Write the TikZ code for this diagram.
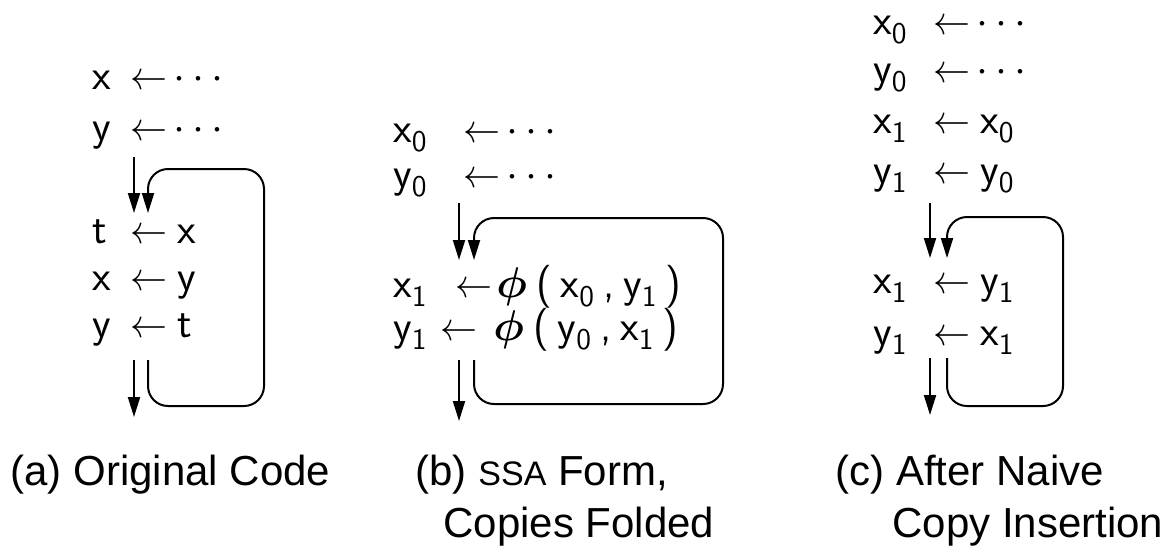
\documentclass[tikz,border=0pt]{standalone}
\usepackage{amsmath}
\usepackage{fontspec}
\setmainfont{Liberation Sans}
\usetikzlibrary{arrows.meta}

\newcommand{\sbs}[1]{\raisebox{-4.5pt}{\fontsize{15}{15}\selectfont #1}}
\newcommand{\asgarrow}{\smash{\scalebox{1.85}[2.0]{\normalsize$\leftarrow$}}}
\newcommand{\dotsrhs}{\smash{\scalebox{2.15}{\normalsize$\cdots$}}}
\newcommand{\phifn}{\scalebox{2.15}{\normalsize$\boldsymbol{\phi}$}}
\newcommand{\gap}{\hspace{4.5pt}}

\tikzset{
    code/.style={anchor=base west, inner sep=0pt, font=\fontsize{21.5}{24}\sffamily},
    caption/.style={anchor=base west, inner sep=0pt, font=\fontsize{21}{26}\selectfont},
    flow/.style={line width=1pt, -{Triangle[length=10pt,width=6pt]}},
    loop/.style={flow, rounded corners=10pt}
}

\begin{document}
\begin{tikzpicture}[x=0.5pt, y=-0.5pt]
    \useasboundingbox (0,0) rectangle (1170,554);

    % (a) original code
    \node[code] (ax0) at (92,89) {x};
    \node[code] (ax0r) at (130,89) {\asgarrow\hspace{3pt}\dotsrhs};
    \node[code] (ay0) at (92,140) {y};
    \node[code] (ay0r) at (130,140) {\asgarrow\hspace{3pt}\dotsrhs};
    \node[code] (at) at (92,243) {t};
    \node[code] (atr) at (130,243) {\asgarrow\hspace{5pt}x};
    \node[code] (ax) at (92,290) {x};
    \node[code] (axr) at (130,290) {\asgarrow\hspace{5pt}y};
    \node[code] (ay) at (92,337) {y};
    \node[code] (ayr) at (130,337) {\asgarrow\hspace{5pt}t};

    \coordinate (aIn) at (134,157);
    \coordinate (aHead) at (134,213);
    \coordinate (aBack) at (148,360);
    \coordinate (aBackHead) at (148,213);
    \coordinate (aOut) at (134,360);
    \coordinate (aExit) at (134,417);
    \draw[flow] (aIn) -- (aHead);
    \draw[loop] (aBack) |- (264,406) |- (148,169) -- (aBackHead);
    \draw[flow] (aOut) -- (aExit);

    \node[caption] (capa) at (10,485) {(a) Original Code};

    % (b) SSA form
    \node[code] (bx0) at (393,142) {x\sbs{0}};
    \node[code] (bx0r) at (463,142) {\asgarrow\hspace{3pt}\dotsrhs};
    \node[code] (by0) at (393,187) {y\sbs{0}};
    \node[code] (by0r) at (463,187) {\asgarrow\hspace{3pt}\dotsrhs};
    \node[code] (bx1) at (393,297) {x\sbs{1}};
    \node[code] (bx1r) at (455,297) {\asgarrow\hspace{2pt}\phifn\gap(\gap x\sbs{0}\gap,\gap y\sbs{1}\gap)};
    \node[code] (by1) at (393,340) {y\sbs{1}};
    \node[code] (by1r) at (440,340) {\asgarrow\hspace{8pt}\phifn\gap(\gap y\sbs{0}\gap,\gap x\sbs{1}\gap)};

    \coordinate (bIn) at (459,203);
    \coordinate (bHead) at (459,260);
    \coordinate (bBack) at (474,360);
    \coordinate (bBackHead) at (474,260);
    \coordinate (bOut) at (459,360);
    \coordinate (bExit) at (459,421);
    \draw[flow] (bIn) -- (bHead);
    \draw[loop] (bBack) |- (723,404) |- (474,218) -- (bBackHead);
    \draw[flow] (bOut) -- (bExit);

    \node[caption] (capb) at (415,485) {(b) {\fontsize{17}{17}\selectfont SSA} Form,};
    \node[caption] (capb2) at (443,537) {Copies Folded};

    % (c) naive copies
    \node[code] (cx0) at (873,34) {x\sbs{0}};
    \node[code] (cx0r) at (933,34) {\asgarrow\hspace{3pt}\dotsrhs};
    \node[code] (cy0) at (873,82) {y\sbs{0}};
    \node[code] (cy0r) at (933,82) {\asgarrow\hspace{3pt}\dotsrhs};
    \node[code] (cx1) at (873,133) {x\sbs{1}};
    \node[code] (cx1r) at (933,133) {\asgarrow\hspace{5pt}x\sbs{0}};
    \node[code] (cy1) at (873,183) {y\sbs{1}};
    \node[code] (cy1r) at (933,183) {\asgarrow\hspace{5pt}y\sbs{0}};
    \node[code] (cx2) at (873,293) {x\sbs{1}};
    \node[code] (cx2r) at (933,293) {\asgarrow\hspace{5pt}y\sbs{1}};
    \node[code] (cy2) at (873,345) {y\sbs{1}};
    \node[code] (cy2r) at (933,345) {\asgarrow\hspace{5pt}x\sbs{1}};

    \coordinate (cIn) at (930,203);
    \coordinate (cHead) at (930,258);
    \coordinate (cBack) at (947,358);
    \coordinate (cBackHead) at (947,258);
    \coordinate (cOut) at (930,358);
    \coordinate (cExit) at (930,415);
    \draw[flow] (cIn) -- (cHead);
    \draw[loop] (cBack) |- (1063,406) |- (947,217) -- (cBackHead);
    \draw[flow] (cOut) -- (cExit);

    \node[caption] (capc) at (835,485) {(c) After Naive};
    \node[caption] (capc2) at (892,537) {Copy Insertion};
\end{tikzpicture}
\end{document}
